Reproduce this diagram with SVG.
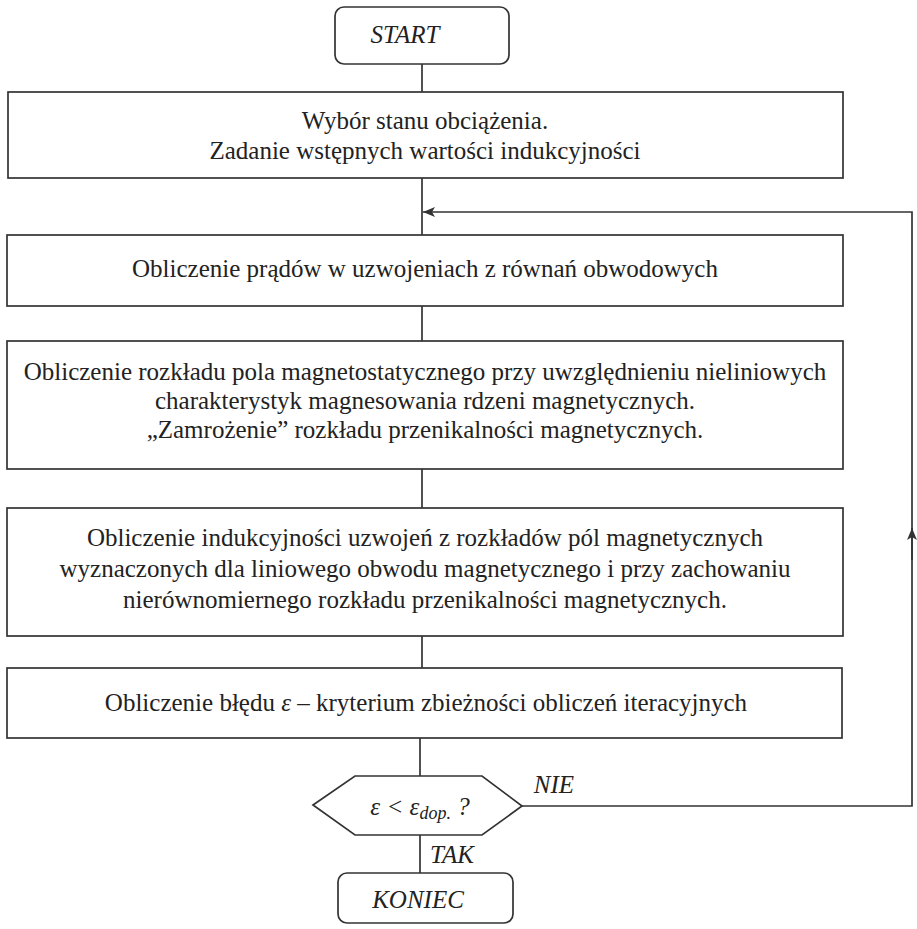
<svg xmlns="http://www.w3.org/2000/svg" width="917" height="929" viewBox="0 0 917 929">
<defs>
<style>
.box{fill:#fff;stroke:#333;stroke-width:1.7}
.ln{fill:none;stroke:#333;stroke-width:1.7}
text{font-family:'Liberation Serif','Times New Roman','DejaVu Serif',serif;font-size:25px;fill:#222;text-anchor:middle}
.i{font-style:italic}
</style>
<marker id="arr" viewBox="0 0 12 10" refX="12" refY="5" markerWidth="12" markerHeight="10" markerUnits="userSpaceOnUse" orient="auto">
<path d="M0,0 L12,5 L0,10 L3,5 Z" fill="#333"/>
</marker>
</defs>
<rect width="917" height="929" fill="#fff"/>
<g id="connectors" font-family="Liberation Serif, serif">
<line class="ln" x1="422" y1="64" x2="422" y2="92"/>
<line class="ln" x1="422" y1="178" x2="422" y2="235"/>
<line class="ln" x1="422" y1="306" x2="422" y2="341"/>
<line class="ln" x1="422" y1="469" x2="422" y2="508"/>
<line class="ln" x1="422" y1="636" x2="422" y2="668"/>
<line class="ln" x1="420" y1="738" x2="420" y2="776"/>
<line class="ln" x1="420" y1="835" x2="420" y2="873"/>
<polyline class="ln" points="522,806 912,806 912,212 423,212" marker-end="url(#arr)"/>
<line class="ln" x1="912" y1="560" x2="912" y2="528" marker-end="url(#arr)"/>
<text class="i" x="554" y="793">NIE</text>
<text class="i" x="452" y="863">TAK</text>
</g>
<g id="start" font-family="Liberation Serif, serif">
<rect class="box" x="335" y="7" width="174" height="57" rx="9"/>
<text class="i" x="405" y="43">START</text>
</g>
<g id="box1" font-family="Liberation Serif, serif">
<rect class="box" x="8" y="92" width="835" height="86"/>
<text x="425" y="129">Wybór stanu obciążenia.</text>
<text x="425" y="159">Zadanie wstępnych wartości indukcyjności</text>
</g>
<g id="box2" font-family="Liberation Serif, serif">
<rect class="box" x="7" y="235" width="836" height="71"/>
<text x="425" y="277">Obliczenie prądów w uzwojeniach z równań obwodowych</text>
</g>
<g id="box3" font-family="Liberation Serif, serif">
<rect class="box" x="7" y="341" width="836" height="128"/>
<text x="425" y="380">Obliczenie rozkładu pola magnetostatycznego przy uwzględnieniu nieliniowych</text>
<text x="425" y="409">charakterystyk magnesowania rdzeni magnetycznych.</text>
<text x="425" y="438">„Zamrożenie” rozkładu przenikalności magnetycznych.</text>
</g>
<g id="box4" font-family="Liberation Serif, serif">
<rect class="box" x="7" y="508" width="836" height="128"/>
<text x="425" y="546">Obliczenie indukcyjności uzwojeń z rozkładów pól magnetycznych</text>
<text x="425" y="577">wyznaczonych dla liniowego obwodu magnetycznego i przy zachowaniu</text>
<text x="425" y="608">nierównomiernego rozkładu przenikalności magnetycznych.</text>
</g>
<g id="box5" font-family="Liberation Serif, serif">
<rect class="box" x="7" y="668" width="835" height="70"/>
<text x="426" y="711">Obliczenie błędu <tspan class="i">ε</tspan> – kryterium zbieżności obliczeń iteracyjnych</text>
</g>
<g id="decision" font-family="Liberation Serif, serif">
<polygon class="box" points="313,805 355,776 482,776 522,806 482,835 355,835"/>
<text class="i" x="420" y="815">ε &lt; ε<tspan font-size="18" dy="4">dop.</tspan><tspan dy="-4"> ?</tspan></text>
</g>
<g id="koniec" font-family="Liberation Serif, serif">
<rect class="box" x="338" y="873" width="175" height="50" rx="9"/>
<text class="i" x="418" y="908">KONIEC</text>
</g>
</svg>
